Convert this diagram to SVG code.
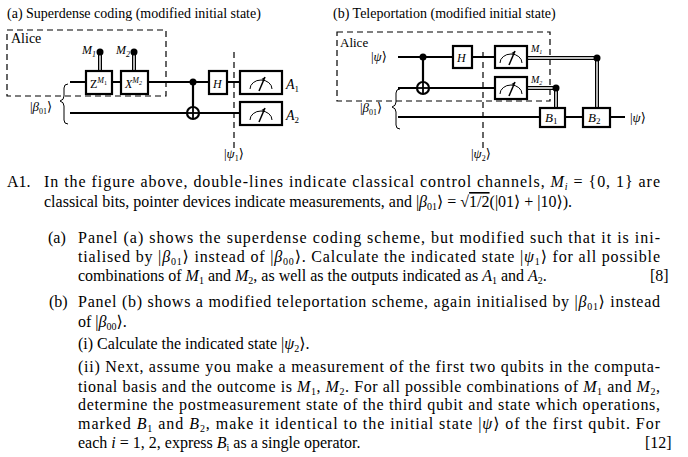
<svg xmlns="http://www.w3.org/2000/svg" width="688" height="457" viewBox="0 0 688 457">
<style>
text{font-family:"Liberation Serif","DejaVu Serif",serif;fill:#000}
.t{font-size:16px}
.s{font-size:12px}
.w{stroke:#000;stroke-width:2.2;fill:none}
.b{stroke:#000;stroke-width:2.2;fill:#fff}
.d{stroke:#000;stroke-width:1.2;fill:none;stroke-dasharray:6,4}
.c1{stroke:#000;stroke-width:4;fill:none}
.c2{stroke:#fff;stroke-width:1.4;fill:none}
.th{stroke:#000;stroke-width:1;fill:none}
</style>
<defs>
<g id="meter"><path d="M-11,5 A11,9 0 0 1 11,5" class="th" stroke-width="1.3"/><line x1="-2" y1="7" x2="4" y2="-7" stroke="#000" stroke-width="1.5"/><path d="M4,-7 l-3.5,2 l2,1.2z" fill="#000"/></g>
</defs>
<text x="7" y="18" style="font-size:14px">(a)   Superdense coding (modified initial state)</text>
<text x="333" y="18" style="font-size:14px">(b)  Teleportation (modified initial state)</text>
<g id="panelA">
<rect class="d" x="7" y="30" width="159" height="66"/>
<text x="11" y="43" style="font-size:14px">Alice</text>
<g id="conn-a">
<line class="w" x1="70" y1="82" x2="240" y2="82"/>
<line class="w" x1="70" y1="113" x2="240" y2="113"/>
<line class="w" x1="193" y1="82" x2="193" y2="119"/>
<line class="c1" x1="100" y1="52" x2="100" y2="71"/><line class="c2" x1="100" y1="54" x2="100" y2="71"/>
<line class="c1" x1="134" y1="52" x2="134" y2="71"/><line class="c2" x1="134" y1="54" x2="134" y2="71"/>
</g>
<circle cx="100" cy="52" r="3.5"/><circle cx="134" cy="52" r="3.5"/>
<text x="82" y="54" style="font-size:12px;font-style:italic">M<tspan font-size="8" dy="3">1</tspan></text>
<text x="116" y="54" style="font-size:12px;font-style:italic">M<tspan font-size="8" dy="3">2</tspan></text>
<g id="Z"><rect class="b" x="86" y="71" width="26" height="23"/><text x="90" y="88" style="font-size:12px">Z<tspan font-size="8" font-style="italic" dy="-5">M</tspan><tspan font-size="6" dy="2">1</tspan></text></g>
<g id="X"><rect class="b" x="121" y="71" width="27" height="23"/><text x="125" y="88" style="font-size:12px;font-style:italic">X<tspan font-size="8" dy="-5">M</tspan><tspan font-size="6" dy="2">2</tspan></text></g>
<circle cx="193" cy="82" r="3.5"/>
<circle cx="193" cy="113" r="6" class="b" stroke-width="1.8"/><line x1="187" y1="113" x2="199" y2="113" stroke="#000" stroke-width="1.8"/><line x1="193" y1="107" x2="193" y2="119" stroke="#000" stroke-width="1.8"/>
<g id="H"><rect class="b" x="209" y="71" width="18" height="23"/><text x="213" y="88" style="font-size:12px;font-style:italic">H</text></g>
<line class="d" x1="234" y1="52" x2="234" y2="148"/>
<g id="meas1"><rect class="b" x="240" y="71" width="42" height="23"/><use href="#meter" x="261" y="84"/></g>
<g id="meas2"><rect class="b" x="240" y="102" width="42" height="23"/><use href="#meter" x="261" y="115"/></g>
<text x="286" y="89" style="font-size:14px;font-style:italic">A<tspan font-size="9" font-style="normal" dy="3">1</tspan></text>
<text x="286" y="120" style="font-size:14px;font-style:italic">A<tspan font-size="9" font-style="normal" dy="3">2</tspan></text>
<path d="M68,84 q-4,0 -4,4 v8 q0,4 -4,5 q4,1 4,5 v14 q0,4 4,4" class="th" stroke-width="0.8"/>
<text x="30" y="111" style="font-size:13px">|<tspan font-style="italic">β</tspan><tspan font-size="8" dy="3">01</tspan><tspan dy="-3">⟩</tspan></text>
<text x="224" y="158" style="font-size:13px">|<tspan font-style="italic">ψ</tspan><tspan font-size="8" dy="3">1</tspan><tspan dy="-3">⟩</tspan></text>
</g>
<g id="panelB">
<rect class="d" x="337" y="32" width="213" height="69"/>
<text x="340" y="47" style="font-size:13px">Alice</text>
<text x="371" y="61" style="font-size:13px">|<tspan font-style="italic">ψ</tspan>⟩</text>
<g id="conn-b">
<line class="w" x1="398" y1="57" x2="495" y2="57"/>
<line class="w" x1="398" y1="88" x2="495" y2="88"/>
<line class="w" x1="398" y1="117" x2="625" y2="117"/>
<line class="w" x1="423" y1="57" x2="423" y2="94"/>
<path class="c1" d="M527,58 H597 V108"/><path class="c2" d="M527,58 H597 V108"/>
<path class="c1" d="M527,88 H556 V108"/><path class="c2" d="M527,88 H556 V108"/>
</g>
<circle cx="423" cy="57" r="3.5"/>
<circle cx="423" cy="88" r="6" class="b" stroke-width="1.8"/><line x1="417" y1="88" x2="429" y2="88" stroke="#000" stroke-width="1.8"/><line x1="423" y1="82" x2="423" y2="94" stroke="#000" stroke-width="1.8"/>
<g id="Hb"><rect class="b" x="453" y="46" width="19" height="22"/><text x="457" y="62" style="font-size:12px;font-style:italic">H</text></g>
<line class="d" x1="483" y1="52" x2="483" y2="150"/>
<g id="mb1"><rect class="b" x="495" y="46" width="32" height="22"/><use href="#meter" x="511" y="58"/></g>
<g id="mb2"><rect class="b" x="495" y="77" width="32" height="22"/><use href="#meter" x="511" y="89"/></g>
<text x="531" y="52" style="font-size:10px;font-style:italic">M<tspan font-size="6" dy="2">1</tspan></text>
<text x="531" y="83" style="font-size:10px;font-style:italic">M<tspan font-size="6" dy="2">2</tspan></text>
<circle cx="597" cy="58" r="3.5"/><circle cx="556" cy="88" r="3.5"/>
<g id="B1"><rect class="b" x="540" y="108" width="25" height="19"/><text x="545" y="122" style="font-size:13px;font-style:italic">B<tspan font-size="9" font-style="normal" dy="2">1</tspan></text></g>
<g id="B2"><rect class="b" x="583" y="108" width="27" height="19"/><text x="588" y="122" style="font-size:13px;font-style:italic">B<tspan font-size="9" font-style="normal" dy="2">2</tspan></text></g>
<text x="630" y="122" style="font-size:13px">|<tspan font-style="italic">ψ</tspan>⟩</text>
<path d="M400,89 q-4,0 -4,4 v9 q0,4 -4,5 q4,1 4,5 v13 q0,4 4,4" class="th" stroke-width="0.8"/>
<text x="360" y="112" style="font-size:13px">|<tspan font-style="italic">β</tspan><tspan font-size="8" dy="3">01</tspan><tspan dy="-3">⟩</tspan></text>
<text x="471" y="158" style="font-size:13px">|<tspan font-style="italic">ψ</tspan><tspan font-size="8" dy="3">2</tspan><tspan dy="-3">⟩</tspan></text>
</g>
<g id="question">
<text class="t" x="7" y="187">A1.</text>
<text class="t" x="44" y="187" textLength="616" lengthAdjust="spacing">In the figure above, double-lines indicate classical control channels, <tspan font-style="italic">M<tspan font-size="10" dy="3">i</tspan></tspan><tspan dy="-3"> = {0, 1} are</tspan></text>
<text class="t" x="44" y="207">classical bits, pointer devices indicate measurements, and |<tspan font-style="italic">β</tspan><tspan font-size="10" dy="3">01</tspan><tspan dy="-3">⟩ = √</tspan><tspan text-decoration="overline">1/2</tspan>(|01⟩ + |10⟩).</text>
<text class="t" x="48" y="243">(a)</text>
<text class="t" x="78" y="243" textLength="582" lengthAdjust="spacing">Panel (a) shows the superdense coding scheme, but modified such that it is ini-</text>
<text class="t" x="78" y="262" textLength="582" lengthAdjust="spacing">tialised by |<tspan font-style="italic">β</tspan><tspan font-size="10" dy="3">01</tspan><tspan dy="-3">⟩ instead of |</tspan><tspan font-style="italic">β</tspan><tspan font-size="10" dy="3">00</tspan><tspan dy="-3">⟩. Calculate the indicated state |</tspan><tspan font-style="italic">ψ</tspan><tspan font-size="10" dy="3">1</tspan><tspan dy="-3">⟩ for all possible</tspan></text>
<text class="t" x="78" y="281">combinations of <tspan font-style="italic">M</tspan><tspan font-size="10" dy="3">1</tspan><tspan dy="-3"> and </tspan><tspan font-style="italic">M</tspan><tspan font-size="10" dy="3">2</tspan><tspan dy="-3">, as well as the outputs indicated as </tspan><tspan font-style="italic">A</tspan><tspan font-size="10" dy="3">1</tspan><tspan dy="-3"> and </tspan><tspan font-style="italic">A</tspan><tspan font-size="10" dy="3">2</tspan><tspan dy="-3">.</tspan></text>
<text class="t" x="650" y="281">[8]</text>
<text class="t" x="49" y="307">(b)</text>
<text class="t" x="78" y="307" textLength="582" lengthAdjust="spacing">Panel (b) shows a modified teleportation scheme, again initialised by |<tspan font-style="italic">β</tspan><tspan font-size="10" dy="3">01</tspan><tspan dy="-3">⟩ instead</tspan></text>
<text class="t" x="78" y="327">of |<tspan font-style="italic">β</tspan><tspan font-size="10" dy="3">00</tspan><tspan dy="-3">⟩.</tspan></text>
<text class="t" x="78" y="349">(i) Calculate the indicated state |<tspan font-style="italic">ψ</tspan><tspan font-size="10" dy="3">2</tspan><tspan dy="-3">⟩.</tspan></text>
<text class="t" x="78" y="372" textLength="582" lengthAdjust="spacing">(ii) Next, assume you make a measurement of the first two qubits in the computa-</text>
<text class="t" x="78" y="392" textLength="582" lengthAdjust="spacing">tional basis and the outcome is <tspan font-style="italic">M</tspan><tspan font-size="10" dy="3">1</tspan><tspan dy="-3">, </tspan><tspan font-style="italic">M</tspan><tspan font-size="10" dy="3">2</tspan><tspan dy="-3">. For all possible combinations of </tspan><tspan font-style="italic">M</tspan><tspan font-size="10" dy="3">1</tspan><tspan dy="-3"> and </tspan><tspan font-style="italic">M</tspan><tspan font-size="10" dy="3">2</tspan><tspan dy="-3">,</tspan></text>
<text class="t" x="78" y="410" textLength="582" lengthAdjust="spacing">determine the postmeasurement state of the third qubit and state which operations,</text>
<text class="t" x="78" y="429" textLength="582" lengthAdjust="spacing">marked <tspan font-style="italic">B</tspan><tspan font-size="10" dy="3">1</tspan><tspan dy="-3"> and </tspan><tspan font-style="italic">B</tspan><tspan font-size="10" dy="3">2</tspan><tspan dy="-3">, make it identical to the initial state |</tspan><tspan font-style="italic">ψ</tspan>⟩ of the first qubit. For</text>
<text class="t" x="78" y="448">each <tspan font-style="italic">i</tspan> = 1, 2, express <tspan font-style="italic">B</tspan><tspan font-size="10" dy="3">i</tspan><tspan dy="-3"> as a single operator.</tspan></text>
<text class="t" x="645" y="448">[12]</text>
</g>
</svg>
